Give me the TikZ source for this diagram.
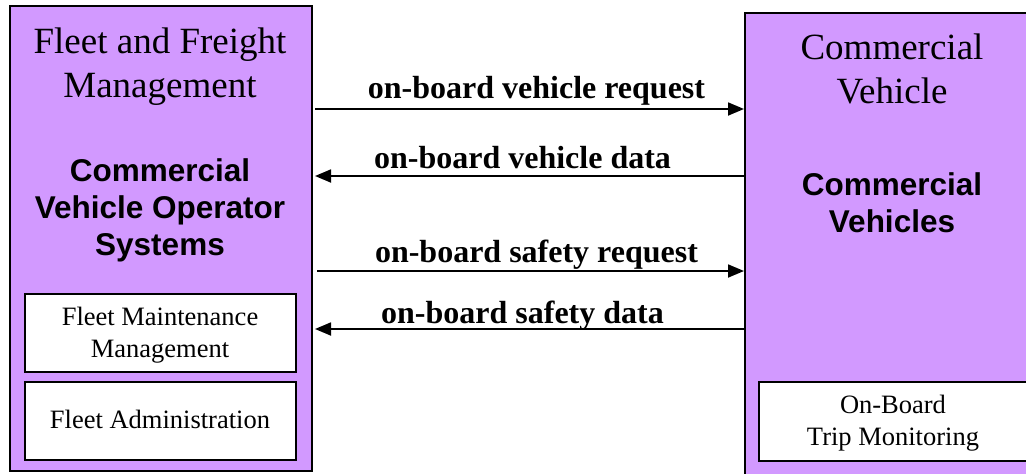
\documentclass[tikz,border=0pt]{standalone}
\usepackage{fontspec}
\setmainfont{Liberation Serif}
\setsansfont{Liberation Sans}
\usetikzlibrary{arrows.meta}
\definecolor{boxpurple}{RGB}{210,153,255}
\begin{document}
\begin{tikzpicture}[x=1pt,y=-1pt,
 outer/.style={draw, line width=2pt, fill=boxpurple, anchor=north west, inner sep=0pt},
 innerbox/.style={draw, line width=2pt, fill=white, anchor=north west, inner sep=0pt},
 titletext/.style={font=\fontsize{37}{44}\selectfont, align=center, anchor=base},
 sysname/.style={font=\sffamily\bfseries\fontsize{31.5}{37}\selectfont, align=center, anchor=base},
 subtext/.style={font=\fontsize{26.5}{32}\selectfont, align=center, anchor=base},
 flow/.style={line width=1.8pt, -{Triangle[length=16pt,width=13pt]}},
 flowlabel/.style={font=\bfseries\fontsize{32}{32}\selectfont, anchor=base}
]
\useasboundingbox (0,0) rectangle (1026,474);
% boxes
\node[outer, minimum width=302pt, minimum height=465pt] (fleet) at (9,5) {};
\node[outer, minimum width=300pt, minimum height=470pt] (cv) at (744,12) {};
\node[innerbox, minimum width=271pt, minimum height=78pt] (fmm) at (24,293) {};
\node[innerbox, minimum width=271pt, minimum height=78pt] (fadm) at (24,381) {};
\node[innerbox, minimum width=300pt, minimum height=79pt] (obtm) at (758,381) {};
% texts (anchor=base is the baseline of the last line)
\node[titletext] (fleettitle) at (160,97) {Fleet and Freight\\Management};
\node[sysname] (fleetsys) at (160,255) {Commercial\\Vehicle Operator\\Systems};
\node[subtext] (fmmtext) at (160,357) {Fleet Maintenance\\Management};
\node[subtext] (fadmtext) at (160,428) {Fleet Administration};
\node[titletext] (cvtitle) at (892,103) {Commercial\\Vehicle};
\node[sysname] (cvsys) at (892,232) {Commercial\\Vehicles};
\node[subtext] (obtmtext) at (893,445) {On-Board\\Trip Monitoring};
% flows
\coordinate (r1) at (0,109);
\coordinate (r2) at (0,176);
\coordinate (r3) at (0,271);
\coordinate (r4) at (0,329);
\draw[flow] ([xshift=2pt]fleet.east |- r1) -- node[flowlabel, xshift=7pt, yshift=11pt] {on-board vehicle request} (cv.west |- r1);
\draw[flow] (cv.west |- r2) -- node[flowlabel, xshift=-7pt, yshift=8pt] {on-board vehicle data} ([xshift=2pt]fleet.east |- r2);
\draw[flow] ([xshift=4pt]fleet.east |- r3) -- node[flowlabel, xshift=6pt, yshift=9pt] {on-board safety request} (cv.west |- r3);
\draw[flow] (cv.west |- r4) -- node[flowlabel, xshift=-7pt, yshift=6pt] {on-board safety data} ([xshift=2pt]fleet.east |- r4);
\end{tikzpicture}
\end{document}
